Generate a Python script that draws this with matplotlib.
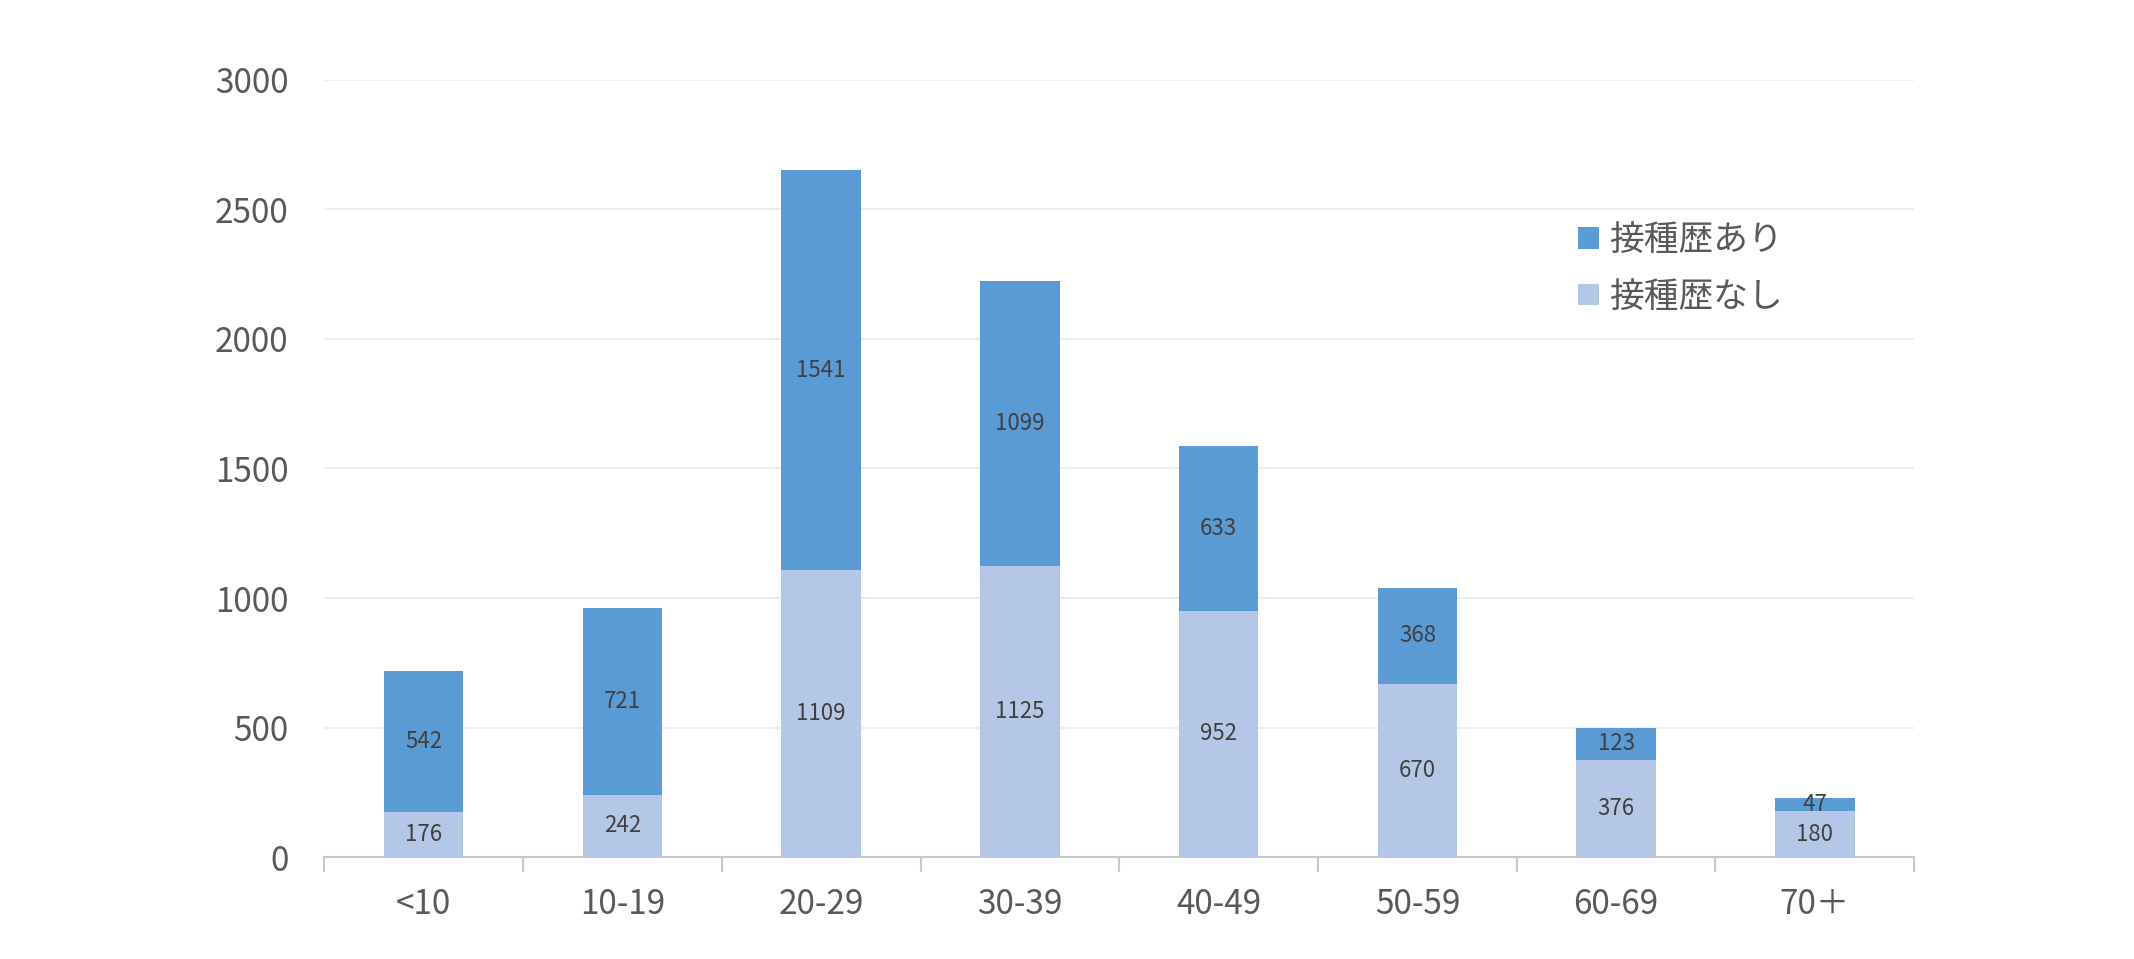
import matplotlib
matplotlib.use("Agg")
import matplotlib.pyplot as plt
import numpy as np

plt.rcParams['font.family'] = ['Noto Sans CJK JP', 'DejaVu Sans']

# data
age_groups = ['<10', '10-19', '20-29', '30-39', '40-49', '50-59', '60-69', '70＋']
without_vax = [176, 242, 1109, 1125, 952, 670, 376, 180]   # 接種歴なし
with_vax = [542, 721, 1541, 1099, 633, 368, 123, 47]       # 接種歴あり

dark_blue = '#5B9BD5'
light_blue = '#B4C7E7'
text_gray = '#595959'
label_gray = '#404040'

fig = plt.figure(figsize=(21.34, 9.59), dpi=100)
ax = fig.add_axes([0.152, 0.106, 0.745, 0.811])

x = np.arange(len(age_groups))
bw = 0.4
b1 = ax.bar(x, without_vax, bw, color=light_blue, label='接種歴なし', zorder=3)
b2 = ax.bar(x, with_vax, bw, bottom=without_vax, color=dark_blue, label='接種歴あり', zorder=3)

# value labels centred in each segment
for i in range(len(x)):
    ax.text(x[i], without_vax[i] / 2, str(without_vax[i]), ha='center', va='center',
            fontsize=16, color=label_gray, zorder=4)
    ax.text(x[i], without_vax[i] + with_vax[i] / 2, str(with_vax[i]), ha='center', va='center',
            fontsize=16, color=label_gray, zorder=4)

ax.set_xlim(-0.5, len(x) - 0.5)
ax.set_ylim(0, 3000)
ax.set_yticks(np.arange(0, 3001, 500))
ax.yaxis.grid(True, color='#EBEBEB', linewidth=1.2, zorder=0)
ax.set_axisbelow(True)

ax.set_xticks(x)
ax.set_xticklabels(age_groups)
ax.set_xticks(np.arange(-0.5, len(x), 1), minor=True)
ax.tick_params(axis='x', which='major', length=0, pad=21, labelsize=24, labelcolor=text_gray)
ax.tick_params(axis='x', which='minor', length=11, width=1.5, color='#C8C8C8')
ax.tick_params(axis='y', length=0, pad=26, labelsize=24, labelcolor=text_gray)

for s in ['top', 'right', 'left']:
    ax.spines[s].set_visible(False)
ax.spines['bottom'].set_color('#C8C8C8')
ax.spines['bottom'].set_linewidth(1.5)

ax.legend(handles=[b2, b1], loc='upper left', bbox_to_anchor=(1561 / 2134, 1 - 206 / 959),
          bbox_transform=fig.transFigure, frameon=False, fontsize=25,
          handlelength=0.58, handleheight=0.58, handletextpad=0.3,
          labelspacing=0.62, labelcolor=text_gray, borderpad=0)

fig.savefig('out.png', dpi=100)
